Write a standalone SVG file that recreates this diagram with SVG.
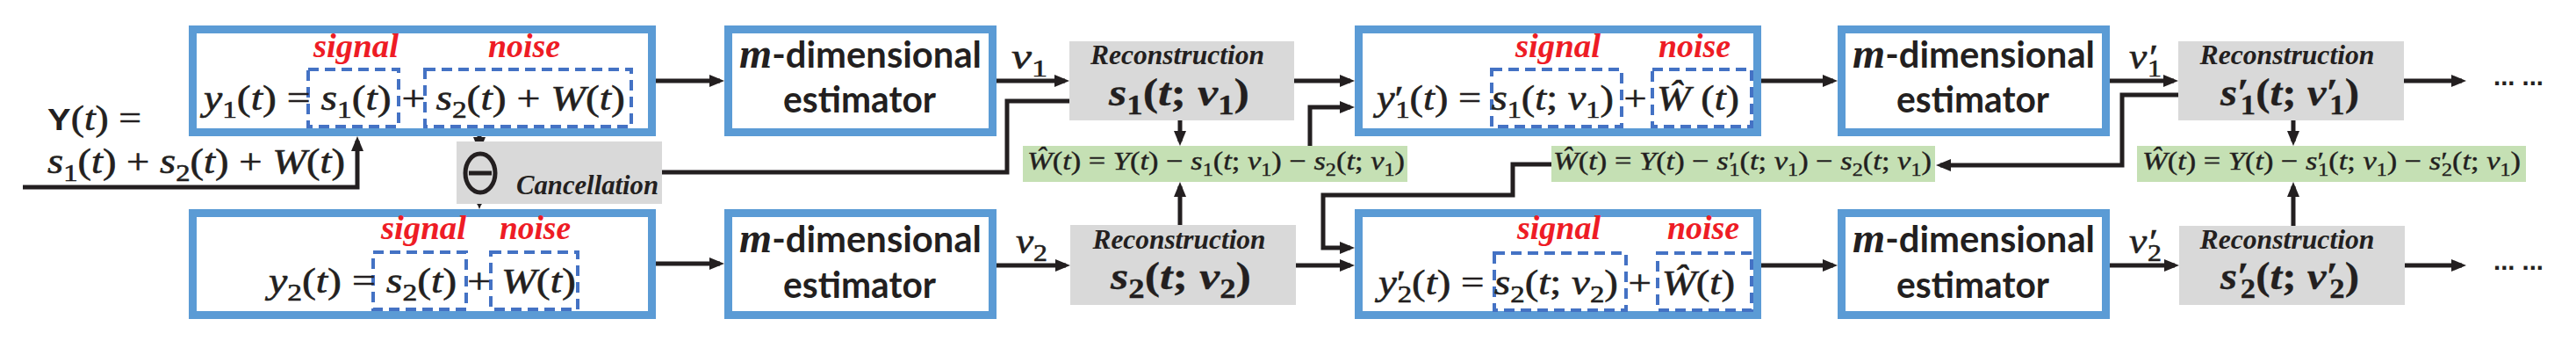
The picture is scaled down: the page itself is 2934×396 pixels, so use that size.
<svg xmlns="http://www.w3.org/2000/svg" width="2934" height="396" viewBox="0 0 2934 396">
<style>
.bb{fill:#fff;stroke:#5B9BD5;stroke-width:9}
.db{fill:none;stroke:#4472C4;stroke-width:4;stroke-dasharray:12 7}
.gr{fill:#D9D9D9}
.gn{fill:#C5E0B4}
.ln{fill:none;stroke:#231F20;stroke-width:5;marker-end:url(#ah)}
.m{font-family:"Liberation Serif",serif;font-size:40px;fill:#231F20;stroke:#231F20;stroke-width:0.6}
.g{font-size:30px;stroke-width:0.4}
.r{font-size:44px;font-weight:bold;stroke-width:0.3}
.i{font-style:italic}
.s{font-size:28px;font-style:normal}
.gs{font-size:21px;font-style:normal}
.rs{font-size:31px;font-style:normal}
.lab{font-family:"Liberation Serif",serif;font-weight:bold;font-style:italic;font-size:38px;fill:#EE1C25}
.est{font-family:Lato,"Liberation Sans",sans-serif;font-weight:bold;font-size:42px;fill:#231F20}
.mi{font-family:"Liberation Serif",serif;font-style:italic;font-weight:bold;font-size:48px}
.rc{font-family:"Liberation Serif",serif;font-style:italic;font-weight:bold;font-size:31px;fill:#231F20}
.sf{font-family:"Liberation Sans",sans-serif;font-weight:bold;font-style:normal;font-size:35px;stroke-width:0}
</style>
<defs>
<marker id="ah" markerUnits="userSpaceOnUse" markerWidth="17" markerHeight="14" refX="12" refY="7" orient="auto"><path d="M0,0 L17,7 L0,14 Z" fill="#231F20"/></marker>
</defs>

<g id="connectors">
<path class="ln" d="M26,213 H407 V160"/>
<path class="ln" d="M747,92 H820"/>
<path class="ln" d="M747,300 H820"/>
<path class="ln" d="M546,155 V168"/>
<path class="ln" d="M546,222 V233"/>
<path class="ln" d="M1218,115 H1147 V196 H571"/>
<path class="ln" d="M1135,92 H1213"/>
<path class="ln" d="M1135,302 H1214"/>
<path class="ln" d="M1344,137 V161"/>
<path class="ln" d="M1344,256 V212"/>
<path class="ln" d="M1474,92 H1538"/>
<path class="ln" d="M1492,166 V122 H1538"/>
<path class="ln" d="M1476,302 H1538"/>
<path class="ln" d="M1767,187 H1723 V222 H1507 V282 H1538"/>
<path class="ln" d="M2006,92 H2088"/>
<path class="ln" d="M2006,302 H2088"/>
<path class="ln" d="M2403,92 H2476"/>
<path class="ln" d="M2403,302 H2477"/>
<path class="ln" d="M2481,108 H2417 V188 H2210"/>
<path class="ln" d="M2612,137 V161"/>
<path class="ln" d="M2612,257 V212"/>
<path class="ln" d="M2738,92 H2804"/>
<path class="ln" d="M2739,302 H2804"/>
</g>

<g id="input">
<text class="m" x="54" y="148" textLength="107" lengthAdjust="spacingAndGlyphs"><tspan class="sf">Y</tspan>(<tspan class="i">t</tspan>) =</text>
<text class="m" x="54" y="197" textLength="339" lengthAdjust="spacingAndGlyphs"><tspan class="i">s</tspan><tspan class="s" dy="9">1</tspan><tspan dy="-9">(</tspan><tspan class="i">t</tspan>) + <tspan class="i">s</tspan><tspan class="s" dy="9">2</tspan><tspan dy="-9">(</tspan><tspan class="i">t</tspan>) + <tspan class="i">W</tspan>(<tspan class="i">t</tspan>)</text>
</g>

<g id="y1box">
<rect class="bb" x="219.5" y="33.5" width="523" height="117"/>
<rect class="db" x="351" y="79" width="103" height="65"/>
<rect class="db" x="484" y="79" width="235" height="65"/>
<text class="lab" x="357" y="65" textLength="97" lengthAdjust="spacingAndGlyphs">signal</text>
<text class="lab" x="556" y="65" textLength="82" lengthAdjust="spacingAndGlyphs">noise</text>
<text class="m" x="232" y="125" textLength="480" lengthAdjust="spacingAndGlyphs"><tspan class="i">y</tspan><tspan class="s" dy="9">1</tspan><tspan dy="-9">(</tspan><tspan class="i">t</tspan>) = <tspan class="i">s</tspan><tspan class="s" dy="9">1</tspan><tspan dy="-9">(</tspan><tspan class="i">t</tspan>) + <tspan class="i">s</tspan><tspan class="s" dy="9">2</tspan><tspan dy="-9">(</tspan><tspan class="i">t</tspan>) + <tspan class="i">W</tspan>(<tspan class="i">t</tspan>)</text>
</g>

<g id="cancel">
<rect class="gr" x="520" y="161" width="234" height="71"/>
<ellipse cx="547" cy="197" rx="17" ry="22" fill="none" stroke="#231F20" stroke-width="5"/>
<path d="M534,197 H560" stroke="#231F20" stroke-width="5"/>
<text class="rc" x="588" y="221" textLength="162" lengthAdjust="spacingAndGlyphs">Cancellation</text>
</g>

<g id="y2box">
<rect class="bb" x="219.5" y="242.5" width="523" height="116"/>
<rect class="db" x="425" y="287" width="106" height="65"/>
<rect class="db" x="559" y="287" width="99" height="65"/>
<text class="lab" x="434" y="272" textLength="97" lengthAdjust="spacingAndGlyphs">signal</text>
<text class="lab" x="569" y="272" textLength="81" lengthAdjust="spacingAndGlyphs">noise</text>
<text class="m" x="306" y="333" textLength="350" lengthAdjust="spacingAndGlyphs"><tspan class="i">y</tspan><tspan class="s" dy="9">2</tspan><tspan dy="-9">(</tspan><tspan class="i">t</tspan>) = <tspan class="i">s</tspan><tspan class="s" dy="9">2</tspan><tspan dy="-9">(</tspan><tspan class="i">t</tspan>) + <tspan class="i">W</tspan>(<tspan class="i">t</tspan>)</text>
</g>

<g id="est1">
<rect class="bb" x="829.5" y="33.5" width="301" height="117"/>
<text class="est" x="980" y="77" text-anchor="middle" textLength="276" lengthAdjust="spacingAndGlyphs"><tspan class="mi">m</tspan>-dimensional</text>
<text class="est" x="979" y="128" text-anchor="middle" textLength="174" lengthAdjust="spacingAndGlyphs">estimator</text>
</g>
<g id="est2">
<rect class="bb" x="829.5" y="242.5" width="301" height="116"/>
<text class="est" x="980" y="287" text-anchor="middle" textLength="276" lengthAdjust="spacingAndGlyphs"><tspan class="mi">m</tspan>-dimensional</text>
<text class="est" x="979" y="339" text-anchor="middle" textLength="174" lengthAdjust="spacingAndGlyphs">estimator</text>
</g>

<g id="v1">
<text class="m i" x="1152" y="78" textLength="41" lengthAdjust="spacingAndGlyphs">v<tspan class="s" dy="9">1</tspan></text>
</g>
<g id="v2">
<text class="m i" x="1157" y="288" textLength="36" lengthAdjust="spacingAndGlyphs">v<tspan class="s" dy="9">2</tspan></text>
</g>

<g id="rec1">
<rect class="gr" x="1218" y="47" width="256" height="90"/>
<text class="rc" x="1341" y="73" text-anchor="middle" textLength="198" lengthAdjust="spacingAndGlyphs">Reconstruction</text>
<text class="m r" x="1263" y="120" textLength="160" lengthAdjust="spacingAndGlyphs"><tspan class="i">s</tspan><tspan class="rs" dy="10">1</tspan><tspan dy="-10">(</tspan><tspan class="i">t</tspan>; <tspan class="i">v</tspan><tspan class="rs" dy="10">1</tspan><tspan dy="-10">)</tspan></text>
</g>
<g id="rec2">
<rect class="gr" x="1219" y="256" width="257" height="91"/>
<text class="rc" x="1343" y="283" text-anchor="middle" textLength="197" lengthAdjust="spacingAndGlyphs">Reconstruction</text>
<text class="m r" x="1265" y="329" textLength="160" lengthAdjust="spacingAndGlyphs"><tspan class="i">s</tspan><tspan class="rs" dy="10">2</tspan><tspan dy="-10">(</tspan><tspan class="i">t</tspan>; <tspan class="i">v</tspan><tspan class="rs" dy="10">2</tspan><tspan dy="-10">)</tspan></text>
</g>

<g id="w1">
<rect class="gn" x="1165" y="166" width="438" height="41"/>
<text class="m g" x="1170" y="193" textLength="430" lengthAdjust="spacingAndGlyphs"><tspan class="i">Ŵ</tspan>(<tspan class="i">t</tspan>) = <tspan class="i">Y</tspan>(<tspan class="i">t</tspan>) − <tspan class="i">s</tspan><tspan class="gs" dy="7">1</tspan><tspan dy="-7">(</tspan><tspan class="i">t</tspan>; <tspan class="i">v</tspan><tspan class="gs" dy="7">1</tspan><tspan dy="-7">) − </tspan><tspan class="i">s</tspan><tspan class="gs" dy="7">2</tspan><tspan dy="-7">(</tspan><tspan class="i">t</tspan>; <tspan class="i">v</tspan><tspan class="gs" dy="7">1</tspan><tspan dy="-7">)</tspan></text>
</g>

<g id="y1pbox">
<rect class="bb" x="1547.5" y="33.5" width="454" height="117"/>
<rect class="db" x="1699" y="79" width="148" height="65"/>
<rect class="db" x="1882" y="79" width="113" height="65"/>
<text class="lab" x="1726" y="65" textLength="97" lengthAdjust="spacingAndGlyphs">signal</text>
<text class="lab" x="1889" y="65" textLength="82" lengthAdjust="spacingAndGlyphs">noise</text>
<text class="m" x="1568" y="125" textLength="413" lengthAdjust="spacingAndGlyphs"><tspan class="i">y</tspan>′<tspan class="s" dx="-8" dy="9">1</tspan><tspan dy="-9">(</tspan><tspan class="i">t</tspan>) = <tspan class="i">s</tspan><tspan class="s" dy="9">1</tspan><tspan dy="-9">(</tspan><tspan class="i">t</tspan>; <tspan class="i">v</tspan><tspan class="s" dy="9">1</tspan><tspan dy="-9">) + </tspan><tspan class="i">Ŵ</tspan> (<tspan class="i">t</tspan>)</text>
</g>

<g id="y2pbox">
<rect class="bb" x="1547.5" y="242.5" width="454" height="116"/>
<rect class="db" x="1702" y="288" width="150" height="65"/>
<rect class="db" x="1888" y="288" width="107" height="65"/>
<text class="lab" x="1728" y="272" textLength="95" lengthAdjust="spacingAndGlyphs">signal</text>
<text class="lab" x="1899" y="272" textLength="82" lengthAdjust="spacingAndGlyphs">noise</text>
<text class="m" x="1570" y="335" textLength="406" lengthAdjust="spacingAndGlyphs"><tspan class="i">y</tspan>′<tspan class="s" dx="-8" dy="9">2</tspan><tspan dy="-9">(</tspan><tspan class="i">t</tspan>) = <tspan class="i">s</tspan><tspan class="s" dy="9">2</tspan><tspan dy="-9">(</tspan><tspan class="i">t</tspan>; <tspan class="i">v</tspan><tspan class="s" dy="9">2</tspan><tspan dy="-9">) + </tspan><tspan class="i">Ŵ</tspan>(<tspan class="i">t</tspan>)</text>
</g>

<g id="w2">
<rect class="gn" x="1767" y="166" width="437" height="41"/>
<text class="m g" x="1769" y="193" textLength="431" lengthAdjust="spacingAndGlyphs"><tspan class="i">Ŵ</tspan>(<tspan class="i">t</tspan>) = <tspan class="i">Y</tspan>(<tspan class="i">t</tspan>) − <tspan class="i">s</tspan>′<tspan class="gs" dx="-6" dy="7">1</tspan><tspan dy="-7">(</tspan><tspan class="i">t</tspan>; <tspan class="i">v</tspan><tspan class="gs" dy="7">1</tspan><tspan dy="-7">) − </tspan><tspan class="i">s</tspan><tspan class="gs" dy="7">2</tspan><tspan dy="-7">(</tspan><tspan class="i">t</tspan>; <tspan class="i">v</tspan><tspan class="gs" dy="7">1</tspan><tspan dy="-7">)</tspan></text>
</g>

<g id="est3">
<rect class="bb" x="2097.5" y="33.5" width="301" height="117"/>
<text class="est" x="2248" y="77" text-anchor="middle" textLength="276" lengthAdjust="spacingAndGlyphs"><tspan class="mi">m</tspan>-dimensional</text>
<text class="est" x="2247" y="128" text-anchor="middle" textLength="174" lengthAdjust="spacingAndGlyphs">estimator</text>
</g>
<g id="est4">
<rect class="bb" x="2097.5" y="242.5" width="301" height="116"/>
<text class="est" x="2248" y="287" text-anchor="middle" textLength="276" lengthAdjust="spacingAndGlyphs"><tspan class="mi">m</tspan>-dimensional</text>
<text class="est" x="2247" y="339" text-anchor="middle" textLength="174" lengthAdjust="spacingAndGlyphs">estimator</text>
</g>

<g id="v1p">
<text class="m i" x="2425" y="78" textLength="37" lengthAdjust="spacingAndGlyphs">v′<tspan class="s" dx="-8" dy="9">1</tspan></text>
</g>
<g id="v2p">
<text class="m i" x="2425" y="288" textLength="37" lengthAdjust="spacingAndGlyphs">v′<tspan class="s" dx="-8" dy="9">2</tspan></text>
</g>

<g id="rec3">
<rect class="gr" x="2481" y="47" width="257" height="90"/>
<text class="rc" x="2605" y="73" text-anchor="middle" textLength="199" lengthAdjust="spacingAndGlyphs">Reconstruction</text>
<text class="m r" x="2529" y="120" textLength="158" lengthAdjust="spacingAndGlyphs"><tspan class="i">s</tspan>′<tspan class="rs" dx="-9" dy="10">1</tspan><tspan dy="-10">(</tspan><tspan class="i">t</tspan>; <tspan class="i">v</tspan>′<tspan class="rs" dx="-9" dy="10">1</tspan><tspan dy="-10">)</tspan></text>
</g>
<g id="rec4">
<rect class="gr" x="2482" y="257" width="257" height="90"/>
<text class="rc" x="2605" y="283" text-anchor="middle" textLength="199" lengthAdjust="spacingAndGlyphs">Reconstruction</text>
<text class="m r" x="2529" y="329" textLength="158" lengthAdjust="spacingAndGlyphs"><tspan class="i">s</tspan>′<tspan class="rs" dx="-9" dy="10">2</tspan><tspan dy="-10">(</tspan><tspan class="i">t</tspan>; <tspan class="i">v</tspan>′<tspan class="rs" dx="-9" dy="10">2</tspan><tspan dy="-10">)</tspan></text>
</g>

<g id="w3">
<rect class="gn" x="2434" y="166" width="443" height="41"/>
<text class="m g" x="2440" y="193" textLength="431" lengthAdjust="spacingAndGlyphs"><tspan class="i">Ŵ</tspan>(<tspan class="i">t</tspan>) = <tspan class="i">Y</tspan>(<tspan class="i">t</tspan>) − <tspan class="i">s</tspan>′<tspan class="gs" dx="-6" dy="7">1</tspan><tspan dy="-7">(</tspan><tspan class="i">t</tspan>; <tspan class="i">v</tspan><tspan class="gs" dy="7">1</tspan><tspan dy="-7">) − </tspan><tspan class="i">s</tspan>′<tspan class="gs" dx="-6" dy="7">2</tspan><tspan dy="-7">(</tspan><tspan class="i">t</tspan>; <tspan class="i">v</tspan><tspan class="gs" dy="7">1</tspan><tspan dy="-7">)</tspan></text>
</g>

<g id="dots1">
<text x="2840" y="97" font-family="Liberation Sans, sans-serif" font-weight="bold" font-size="30" fill="#231F20" textLength="57" lengthAdjust="spacingAndGlyphs">... ...</text>
</g>
<g id="dots2">
<text x="2840" y="307" font-family="Liberation Sans, sans-serif" font-weight="bold" font-size="30" fill="#231F20" textLength="57" lengthAdjust="spacingAndGlyphs">... ...</text>
</g>
</svg>
